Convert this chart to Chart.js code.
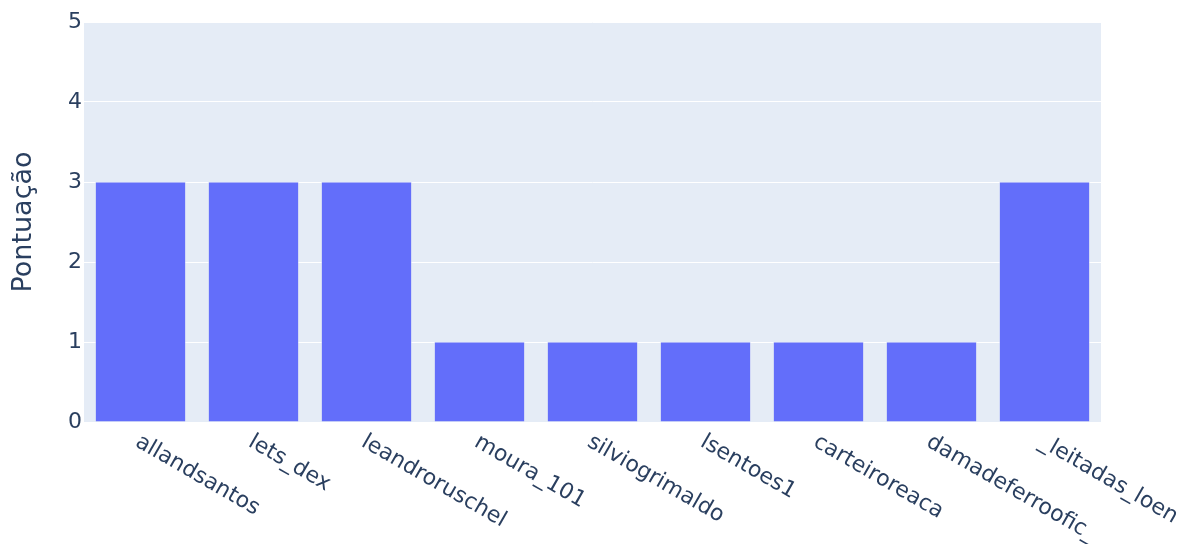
<!DOCTYPE html>
<html>
<head>
<meta charset="utf-8">
<script src="https://cdn.jsdelivr.net/npm/chart.js@4/dist/chart.umd.min.js"></script>
<style>
html,body{margin:0;padding:0;background:#fff;}
#wrap{width:1192px;height:544px;position:relative;}
</style>
</head>
<body>
<div id="wrap"><canvas id="c" width="1192" height="544"></canvas></div>
<script>
const categories = ["allandsantos","lets_dex","leandroruschel","moura_101","silviogrimaldo","lsentoes1","carteiroreaca","damadeferroofic_","_leitadas_loen"];
const scores = [3,3,3,1,1,1,1,1,3];
const yTicks = [0,1,2,3,4,5];
const yTitle = "Pontuação";

const FONT = "'DejaVu Sans', Verdana, sans-serif";
const TEXT = "#2a3f5f";

const rotatedLabels = {
  id: 'rotatedLabels',
  afterDraw(chart) {
    const x = chart.scales.x;
    const ctx = chart.ctx;
    ctx.save();
    ctx.fillStyle = TEXT;
    ctx.font = "22px " + FONT;
    ctx.textAlign = 'left';
    ctx.textBaseline = 'top';
    categories.forEach((lab, i) => {
      const px = x.getPixelForTick(i);
      ctx.save();
      ctx.translate(px + 2, x.top + 9);
      ctx.rotate(30 * Math.PI / 180);
      ctx.fillText(lab, 0, 0);
      ctx.restore();
    });
    ctx.restore();
  }
};

const bgPlugin = {
  id: 'bgPlugin',
  beforeDraw(chart) {
    const a = chart.chartArea;
    const ctx = chart.ctx;
    ctx.save();
    ctx.fillStyle = '#E5ECF6';
    ctx.fillRect(a.left, a.top, a.right - a.left, a.bottom - a.top);
    ctx.restore();
  }
};

new Chart(document.getElementById('c'), {
  type: 'bar',
  data: {
    labels: categories,
    datasets: [{
      data: scores,
      backgroundColor: '#636EFA',
      borderColor: '#E5ECF6',
      borderWidth: 0.5,
      barPercentage: 0.8,
      categoryPercentage: 1.0
    }]
  },
  options: {
    responsive: false,
    animation: false,
    layout: { padding: { top: 22, right: 91, left: 0, bottom: 0 } },
    plugins: { legend: { display: false }, tooltip: { enabled: false } },
    scales: {
      x: {
        grid: { display: false, drawTicks: false },
        border: { display: false },
        ticks: { display: false },
        afterFit(s) { s.height = 122; }
      },
      y: {
        min: 0, max: 5,
        afterBuildTicks(s) { s.ticks = yTicks.map(v => ({ value: v })); },
        grid: { color: '#ffffff', lineWidth: 1, drawTicks: false },
        border: { display: false },
        ticks: { color: TEXT, font: { family: FONT, size: 22 }, padding: 2 },
        title: { display: true, text: yTitle, color: TEXT, font: { family: FONT, size: 27 }, padding: { top: 8, bottom: 0 } },
        afterFit(s) { s.width = 84; }
      }
    }
  },
  plugins: [bgPlugin, rotatedLabels]
});
</script>
</body>
</html>
